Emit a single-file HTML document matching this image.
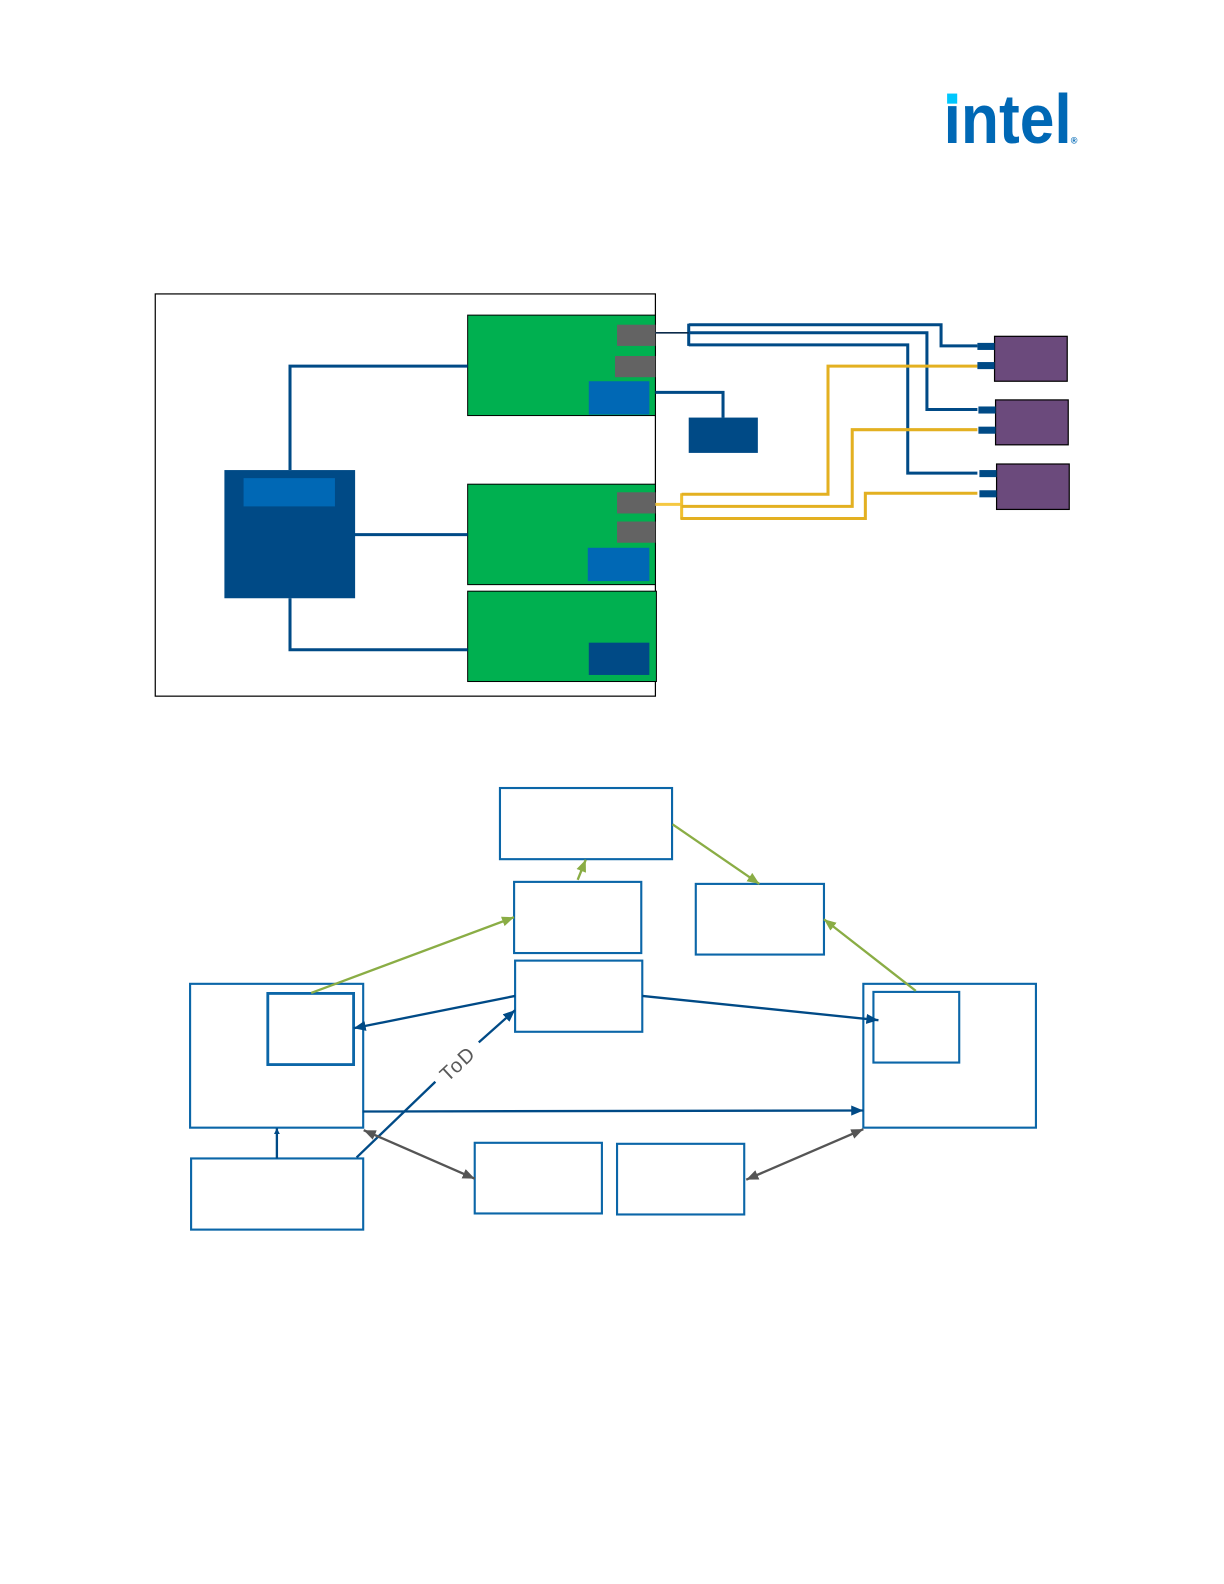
<!DOCTYPE html>
<html>
<head>
<meta charset="utf-8">
<style>
html,body{margin:0;padding:0;background:#fff;width:1224px;height:1584px;overflow:hidden}
svg{display:block}
</style>
</head>
<body>
<svg width="1224" height="1584" viewBox="-0.3 -0.7 1212.6 1569.3" xmlns="http://www.w3.org/2000/svg">
<defs>
<marker id="ab" markerUnits="userSpaceOnUse" markerWidth="14" markerHeight="11" refX="12" refY="5" orient="auto"><path d="M0 0L12 5L0 10Z" fill="#004a86"/></marker>
<marker id="abs" markerUnits="userSpaceOnUse" markerWidth="7" markerHeight="7" refX="6" refY="3" orient="auto"><path d="M0 0L6 3L0 6Z" fill="#004a86"/></marker>
<marker id="ao" markerUnits="userSpaceOnUse" markerWidth="14" markerHeight="11" refX="12" refY="5" orient="auto"><path d="M0 0L12 5L0 10Z" fill="#8aad45"/></marker>
<marker id="ag" markerUnits="userSpaceOnUse" markerWidth="14" markerHeight="11" refX="12" refY="5" orient="auto-start-reverse"><path d="M0 0L12 5L0 10Z" fill="#555"/></marker>
</defs>

<!-- logo -->
<text x="934.500" y="141" font-family="'Liberation Sans',sans-serif" font-weight="700" font-size="69" fill="#0068b5" textLength="127" lengthAdjust="spacingAndGlyphs">intel</text>
<rect x="933" y="82" width="18.500" height="21.500" fill="#fff"/>
<rect x="938" y="92" width="10" height="10" fill="#00c7fd"/>
<text x="1060.500" y="141.500" font-family="'Liberation Sans',sans-serif" font-size="9" font-weight="700" fill="#0068b5">®</text>

<!-- top diagram -->
<rect x="153.500" y="290.500" width="495.500" height="398.500" fill="#fff" stroke="#000" stroke-width="1.200"/>
<rect x="463" y="311.500" width="186" height="99.500" fill="#00b050" stroke="#000" stroke-width="1"/>
<rect x="463" y="479" width="186" height="99.500" fill="#00b050" stroke="#000" stroke-width="1"/>
<rect x="463" y="585" width="187" height="89.500" fill="#00b050" stroke="#000" stroke-width="1"/>
<rect x="611" y="321" width="38" height="21" fill="#636363"/>
<rect x="609" y="352" width="40" height="21" fill="#636363"/>
<rect x="583" y="377" width="60" height="33" fill="#0068b5"/>
<rect x="611" y="487" width="38" height="21" fill="#636363"/>
<rect x="611" y="516" width="38" height="21" fill="#636363"/>
<rect x="582" y="542" width="61" height="33" fill="#0068b5"/>
<rect x="583" y="636" width="60" height="32" fill="#004a86"/>
<rect x="222" y="465" width="129.500" height="127" fill="#004a86"/>
<rect x="241" y="473" width="90.500" height="28" fill="#0068b5"/>
<g fill="none" stroke="#004a86" stroke-width="3">
<path d="M287 465V362H463"/>
<path d="M351 529H463"/>
<path d="M287 592V643H463"/>
<path d="M649 388H716V413"/>
<path d="M682 321H932V342H968"/>
<path d="M682 329H918V405H968"/>
<path d="M682 341H899V468H968"/>
<path d="M682 320V342"/>
</g>
<path d="M649 329H682" stroke="#0b2a4a" stroke-width="1.600" fill="none"/>
<rect x="682" y="413" width="68.500" height="35" fill="#004a86"/>
<path d="M649 499H675" stroke="#f5c842" stroke-width="3" fill="none"/>
<path d="M675 488V514" stroke="#f0c030" stroke-width="3" fill="none"/>
<g fill="none" stroke="#e3b021" stroke-width="3">
<path d="M675 489H820V362H968"/>
<path d="M675 501H844V425H968"/>
<path d="M674 513H857V488H968"/>
</g>
<g fill="#6b4a7c" stroke="#000" stroke-width="1.200">
<rect x="985" y="332.500" width="72" height="44.500"/>
<rect x="986" y="395.500" width="72" height="44.500"/>
<rect x="987" y="459" width="72" height="45"/>
</g>
<g fill="#004a86">
<rect x="968" y="339" width="17" height="7"/>
<rect x="968" y="358" width="17" height="7"/>
<rect x="969" y="402" width="17" height="7"/>
<rect x="969" y="422" width="17" height="7"/>
<rect x="970" y="465" width="17" height="7"/>
<rect x="970" y="485" width="17" height="7"/>
</g>

<!-- bottom diagram -->
<g fill="#fff" stroke="#0b66a8" stroke-width="2.100">
<rect x="495" y="780" width="170.500" height="70.500"/>
<rect x="509" y="873" width="126" height="70.500"/>
<rect x="689" y="875" width="127" height="70"/>
<rect x="510" y="951" width="126" height="70.500"/>
<rect x="188" y="974" width="171.500" height="142.500"/>
<rect x="855" y="974" width="171" height="142.500"/>
<rect x="865" y="982" width="85" height="70"/>
<rect x="189" y="1147" width="170.500" height="70.500"/>
<rect x="470" y="1131.500" width="126" height="70"/>
<rect x="611" y="1132.500" width="126" height="70"/>
</g>
<rect x="265" y="983.500" width="85" height="70.500" fill="none" stroke="#0b66a8" stroke-width="2.800"/>

<g fill="none" stroke="#8aad45" stroke-width="2.300">
<path d="M308 983L509 908" marker-end="url(#ao)"/>
<path d="M572 871L580 851" marker-end="url(#ao)"/>
<path d="M666 816L752 875" marker-end="url(#ao)"/>
<path d="M907 981L816 910" marker-end="url(#ao)"/>
</g>
<g fill="none" stroke="#004a86" stroke-width="2.300">
<path d="M510 986L350 1018" marker-end="url(#ab)"/>
<path d="M636 986L870 1010" marker-end="url(#ab)"/>
<path d="M359 1100.500L855 1099.500" marker-end="url(#ab)"/>
<path d="M274 1147V1117" marker-end="url(#abs)"/>
<path d="M353 1146L431 1071"/>
<path d="M474 1032L510 1000" marker-end="url(#ab)"/>
</g>
<g fill="none" stroke="#555" stroke-width="2.300">
<path d="M360 1119L470 1167" marker-start="url(#ag)" marker-end="url(#ag)"/>
<path d="M739 1168L855 1118" marker-start="url(#ag)" marker-end="url(#ag)"/>
</g>
<text x="453" y="1060" text-anchor="middle" transform="rotate(-43 453 1053)" font-family="'Liberation Sans',sans-serif" font-size="20" letter-spacing="1.500" fill="#595959">ToD</text>
</svg>
</body>
</html>
